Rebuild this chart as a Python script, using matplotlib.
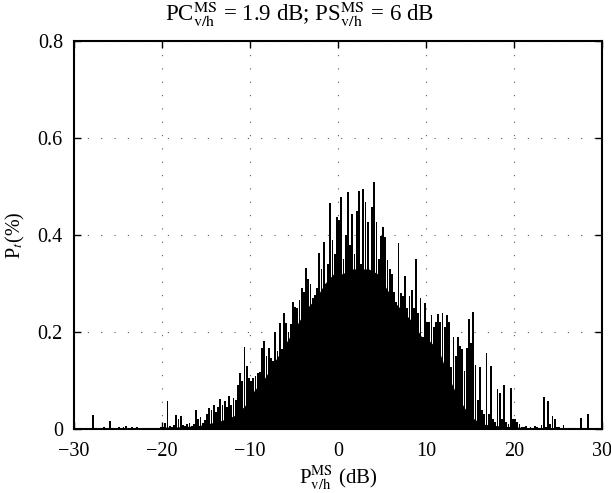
import numpy as np
import matplotlib
matplotlib.use("Agg")
import matplotlib.pyplot as plt

plt.rcParams['font.family'] = ['Liberation Serif', 'DejaVu Serif']
plt.rcParams['mathtext.fontset'] = 'stix'
plt.rcParams['font.size'] = 14

# histogram bins, 0.25 dB wide, from -30 dB to 30 dB (peak height in each bin, %)
bin_start = -30.0
bin_step = 0.25
pt = [
    # -30 .. -25
    0, 0, 0, 0, 0, 0.002, 0, 0, 0.028, 0, 0, 0, 0, 0.005, 0, 0, 0.016, 0, 0, 0,
    # -25 .. -20
    0.005, 0, 0.004, 0.006, 0, 0.003, 0.005, 0, 0.004, 0.003, 0, 0.002, 0, 0, 0.003, 0, 0.002, 0, 0.001, 0.005,
    # -20 .. -15
    0.004, 0.012, 0.058, 0.006, 0.005, 0.008, 0.028, 0.02, 0.027, 0.008, 0.006, 0.01, 0.012, 0.007, 0.01, 0.039, 0.02, 0.025, 0.012, 0.018,
    # -15 .. -10
    0.03, 0.043, 0.04, 0.05, 0.035, 0.045, 0.062, 0.05, 0.058, 0.045, 0.068, 0.05, 0.064, 0.06, 0.09, 0.115, 0.1, 0.17, 0.13, 0.105,
    # -10 .. -5
    0.10, 0.105, 0.11, 0.115, 0.118, 0.166, 0.181, 0.15, 0.168, 0.146, 0.14, 0.2, 0.16, 0.219, 0.165, 0.24, 0.219, 0.2, 0.217, 0.261,
    # -5 .. 0
    0.251, 0.25, 0.265, 0.29, 0.283, 0.331, 0.31, 0.30, 0.27, 0.276, 0.29, 0.362, 0.33, 0.386, 0.30, 0.34, 0.465, 0.39, 0.36, 0.438,
    # 0 .. 5
    0.43, 0.479, 0.35, 0.40, 0.488, 0.38, 0.443, 0.36, 0.45, 0.491, 0.34, 0.494, 0.469, 0.427, 0.32, 0.457, 0.509, 0.426, 0.35, 0.397,
    # 5 .. 10
    0.416, 0.395, 0.348, 0.33, 0.32, 0.283, 0.262, 0.383, 0.28, 0.275, 0.315, 0.25, 0.275, 0.287, 0.25, 0.35, 0.24, 0.27, 0.19, 0.26,
    # 10 .. 15
    0.22, 0.22, 0.235, 0.21, 0.22, 0.237, 0.22, 0.24, 0.21, 0.235, 0.22, 0.128, 0.19, 0.15, 0.19, 0.172, 0.165, 0.12, 0.168, 0.226,
    # 15 .. 20
    0.177, 0.242, 0.132, 0.06, 0.128, 0.04, 0.03, 0.157, 0.03, 0.13, 0.02, 0.015, 0.082, 0.074, 0.02, 0.09, 0.015, 0.01, 0.085, 0.02,
    # 20 .. 25
    0.02, 0.015, 0.01, 0.005, 0.004, 0.006, 0.003, 0.005, 0.002, 0.006, 0.004, 0.003, 0.008, 0.065, 0.005, 0.058, 0.01, 0.026, 0.02, 0.005,
    # 25 .. 30
    0.004, 0.003, 0.008, 0.003, 0, 0.002, 0, 0, 0, 0, 0.022, 0, 0.002, 0.031, 0, 0, 0, 0, 0, 0,
]

# solid lower level of the histogram, read at 1 dB steps (centres -29.5 .. 29.5)
floor_db = list(range(-30, 30))
floor = [
    0, 0, 0, 0, 0, 0, 0, 0, 0.001, 0.001,
    0.004, 0.004, 0.005, 0.006, 0.008, 0.012, 0.016, 0.022, 0.03, 0.05,
    0.08, 0.10, 0.13, 0.16, 0.19, 0.22, 0.25, 0.27, 0.30, 0.32,
    0.32, 0.33, 0.33, 0.33, 0.32, 0.29, 0.26, 0.24, 0.22, 0.19,
    0.18, 0.16, 0.11, 0.07, 0.04, 0.02, 0.01, 0.008, 0.006, 0.005,
    0.004, 0.003, 0.002, 0.003, 0.003, 0.002, 0.001, 0.001, 0.001, 0,
]

x_ticks = [-30, -20, -10, 0, 10, 20, 30]
y_ticks = [0, 0.2, 0.4, 0.6, 0.8]
y_ticklabels = ['0', '0.2', '0.4', '0.6', '0.8']

centers = bin_start + bin_step * (np.arange(len(pt)) + 0.5)
floor_x = np.array(floor_db) + 0.5

fig = plt.figure(figsize=(6.11, 4.93), dpi=100)
ax = fig.add_axes([74 / 611, 1 - 429 / 493, (602 - 74) / 611, (429 - 41) / 493])

ax.fill_between(floor_x, floor, color='black', linewidth=0, zorder=2)
ax.bar(centers, pt, width=0.21, color='black', linewidth=0, zorder=3)

ax.set_xlim(-30, 30)
ax.set_ylim(0, 0.8)
ax.set_xticks(x_ticks)
ax.set_yticks(y_ticks)
ax.set_yticklabels(y_ticklabels)
ax.set_axisbelow(True)
ax.grid(True, color='0.35', linewidth=0.8, linestyle=(0, (1, 11)))
ax.tick_params(direction='in', length=5, width=1, top=True, right=True,
               labelsize=14.5)
ax.tick_params(axis='x', pad=9)
ax.tick_params(axis='y', pad=8)
for s in ax.spines.values():
    s.set_linewidth(1.5)

fig.text(300 / 611, 1 - 14 / 493,
         r'PC$^{\mathrm{MS}}_{\mathrm{v/h}}$ = 1.9 dB; PS$^{\mathrm{MS}}_{\mathrm{v/h}}$ = 6 dB',
         fontsize=16.5, ha='center', va='center')
ax.set_xlabel(r'P$^{\mathrm{MS}}_{\mathrm{v/h}}$ (dB)', fontsize=15, labelpad=3)
ax.set_ylabel(r'P$_t$(%)', fontsize=14.5, labelpad=8)

fig.savefig('out.png', dpi=100)
